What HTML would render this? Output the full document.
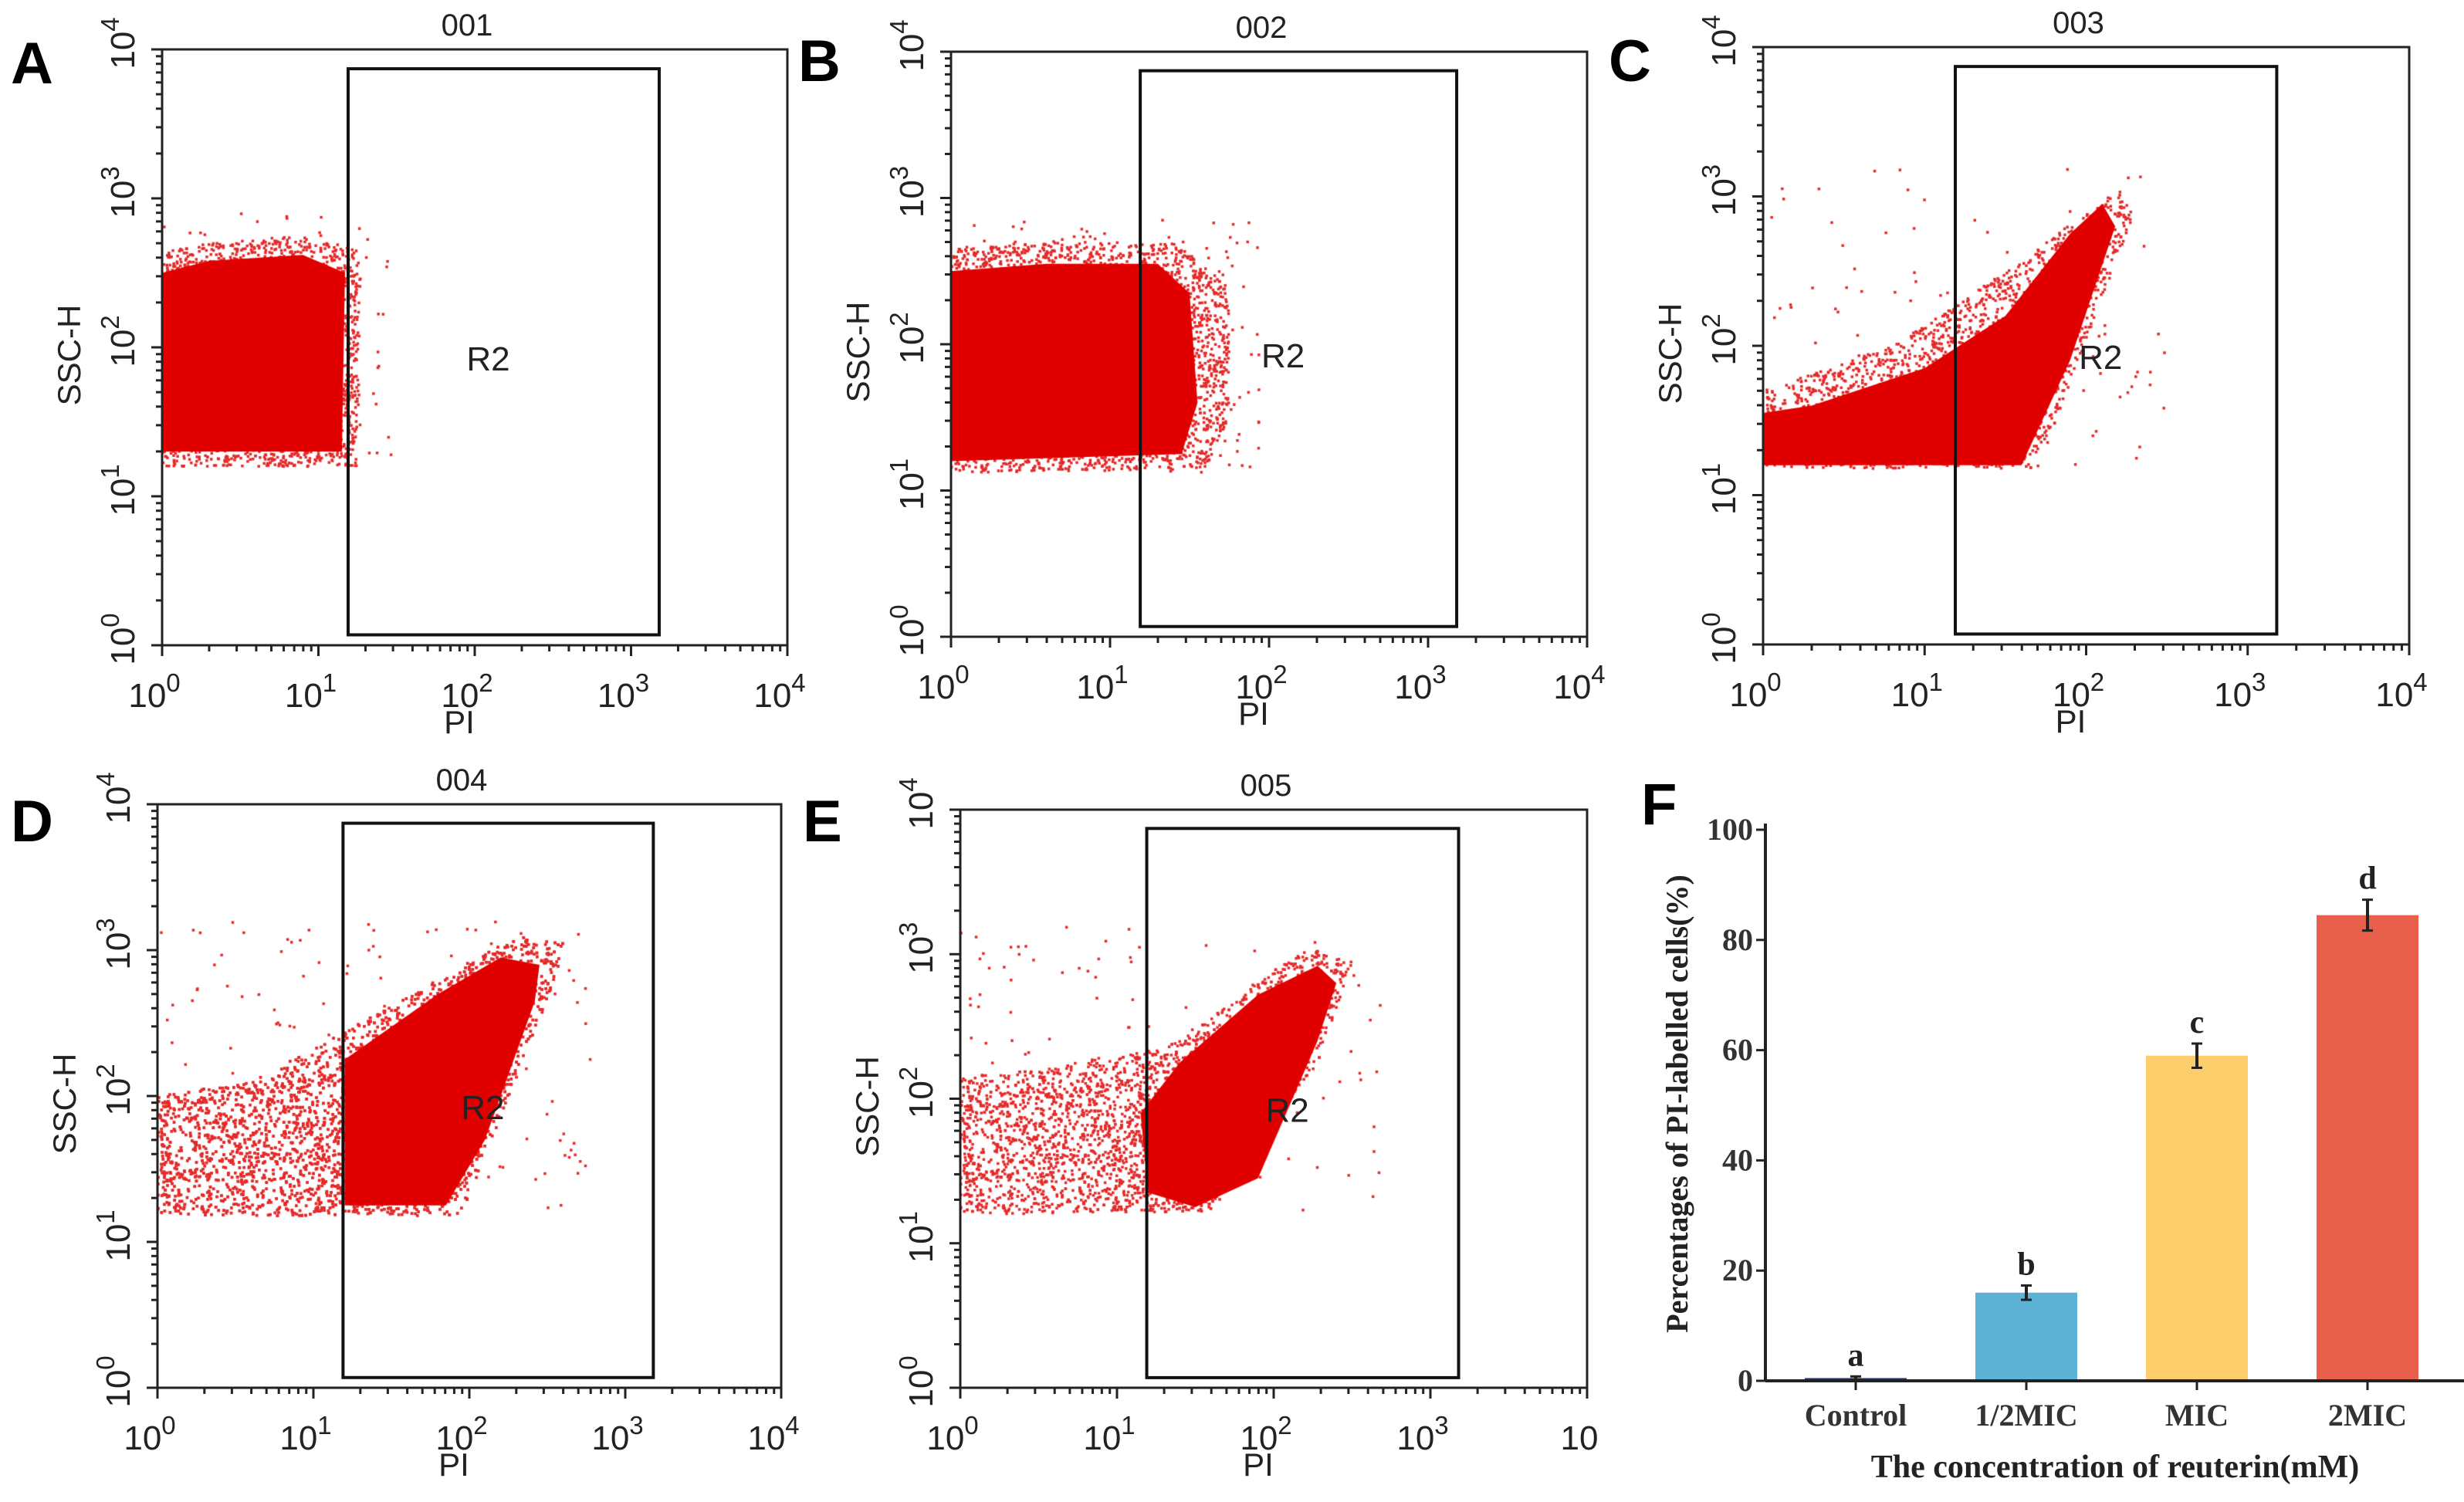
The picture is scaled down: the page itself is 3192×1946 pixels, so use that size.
<!DOCTYPE html>
<html><head><meta charset="utf-8">
<style>
html,body{margin:0;padding:0;background:#fff;}
#wrap{position:relative;width:3192px;height:1946px;overflow:hidden;background:#fff;}
canvas,svg{position:absolute;left:0;top:0;}
</style></head>
<body>
<div id="wrap">
<canvas id="dots" width="3192" height="1946"></canvas>
<svg id="svg" width="3192" height="1946" xmlns="http://www.w3.org/2000/svg"></svg>
</div>
<script>
// ---------- flow cytometry panel data (log10 decade units) ----------
const panelIds = ['A','B','C','D','E'];
const panelTitles = ['001','002','003','004','005'];
const xTickLabelsAll = ['0','1','2','3','4'];
const yTickLabelsAll = ['0','1','2','3','4'];
const gateX = [1.19, 3.18];
const gateY = [0.07, 3.87];
// dense cloud outlines [log10 PI, log10 SSC-H]
const denseA = [[0,1.3],[1.15,1.3],[1.17,2.5],[0.9,2.62],[0.3,2.58],[0,2.5]];
const denseB = [[0,1.2],[1.45,1.25],[1.55,1.6],[1.5,2.35],[1.3,2.55],[0.6,2.55],[0,2.5]];
const denseC = [[0,1.2],[1.6,1.2],[1.9,1.9],[2.18,2.8],[2.1,2.95],[1.9,2.75],[1.5,2.2],[1.0,1.85],[0.3,1.6],[0,1.55]];
const denseD = [[1.2,1.25],[1.85,1.25],[2.1,1.7],[2.42,2.65],[2.45,2.9],[2.2,2.95],[1.8,2.7],[1.4,2.4],[1.2,2.25]];
const denseE = [[1.2,1.35],[1.5,1.25],[1.9,1.45],[2.28,2.4],[2.4,2.8],[2.28,2.92],[1.9,2.72],[1.4,2.25],[1.15,1.9]];
// sparse (speckled) cloud outlines and dot counts
const sparseA = [[0,1.2],[1.25,1.2],[1.27,2.65],[0.9,2.75],[0.3,2.7],[0,2.65]];
const sparseB = [[0,1.12],[1.6,1.15],[1.75,1.5],[1.75,2.4],[1.4,2.7],[0.6,2.7],[0,2.65]];
const sparseC = [[0,1.18],[1.7,1.18],[2.3,2.9],[2.2,3.05],[1.5,2.5],[0.8,2.0],[0,1.7]];
const sparseD = [[0,1.18],[1.95,1.18],[2.55,2.8],[2.6,3.05],[2.3,3.1],[1.3,2.5],[0.6,2.1],[0,2.0]];
const sparseE = [[0,1.2],[1.6,1.22],[2.3,2.3],[2.5,2.95],[2.2,3.05],[1.4,2.4],[0.5,2.2],[0,2.15]];
const sparseCounts = [2500, 3500, 2500, 7000, 3500];
const sparseCountsOuter = [30, 60, 60, 80, 70];

// ---------- bar chart data ----------
const barCategories = ['Control','1/2MIC','MIC','2MIC'];
const barValues = [0.5, 16, 59, 84.5];
const barErrors = [0.3, 1.3, 2.2, 2.8];
const barLetters = ['a','b','c','d'];
const barColors = ['#2a3a6a','#5db3d6','#fccd6b','#e8604c'];
const yTicks = [0,20,40,60,80,100];

const NS='http://www.w3.org/2000/svg';
const svg=document.getElementById('svg');
function mk(tag,attrs,parent){const e=document.createElementNS(NS,tag);for(const k in attrs)e.setAttribute(k,attrs[k]);(parent||svg).appendChild(e);return e;}

const boxes=[
 {x0:210,x1:1020,yb:836,yt:64},
 {x0:1232,x1:2056,yb:825,yt:67},
 {x0:2284,x1:3121,yb:835,yt:61},
 {x0:204,x1:1012,yb:1798,yt:1042},
 {x0:1244,x1:2056,yb:1798,yt:1049}
];
const denseList=[denseA,denseB,denseC,denseD,denseE];
const sparseList=[sparseA,sparseB,sparseC,sparseD,sparseE];
const letterPos=[[14,108],[1034,105],[2084,105],[14,1090],[1040,1090]];

let seed=12345;
function rnd(){seed=(seed*1103515245+12345)%2147483648;return seed/2147483648;}
function inside(pt,poly){let c=false;for(let i=0,j=poly.length-1;i<poly.length;j=i++){const [xi,yi]=poly[i],[xj,yj]=poly[j];if(((yi>pt[1])!=(yj>pt[1]))&&(pt[0]<(xj-xi)*(pt[1]-yi)/(yj-yi)+xi))c=!c;}return c;}
function bbox(poly){let a=[1e9,1e9,-1e9,-1e9];poly.forEach(p=>{a[0]=Math.min(a[0],p[0]);a[1]=Math.min(a[1],p[1]);a[2]=Math.max(a[2],p[0]);a[3]=Math.max(a[3],p[1]);});return a;}

const ctx=document.getElementById('dots').getContext('2d');

boxes.forEach((b,i)=>{
 const sx=v=>b.x0+v*(b.x1-b.x0)/4;
 const sy=v=>b.yb-v*(b.yb-b.yt)/4;
 const g=mk('g',{});
 
 
 ctx.save();ctx.beginPath();ctx.rect(b.x0,b.yt,b.x1-b.x0,b.yb-b.yt);ctx.clip();
 const sp=sparseList[i], bb=bbox(sp);
 ctx.fillStyle='#e42a2a';
 let n=0,guard=0;
 while(n<sparseCounts[i]&&guard<400000){guard++;const p=[bb[0]+rnd()*(bb[2]-bb[0]),bb[1]+rnd()*(bb[3]-bb[1])];if(inside(p,sp)){ctx.fillRect(sx(p[0])-1.5,sy(p[1])-1.5,3.5,3.5);n++;}}
 n=0;guard=0;
 const ob=[Math.max(0,bb[0]-0.1),bb[1],bb[2]+0.2,bb[3]+0.15];
 while(n<sparseCountsOuter[i]&&guard<400000){guard++;const p=[ob[0]+rnd()*(ob[2]-ob[0]),ob[1]+rnd()*(ob[3]-ob[1])];if(!inside(p,sp)){ctx.fillRect(sx(p[0])-1.5,sy(p[1])-1.5,3.5,3.5);n++;}}
 const dp=denseList[i];
 ctx.fillStyle='#e00000';ctx.beginPath();
 dp.forEach((p,k)=>{k?ctx.lineTo(sx(p[0]),sy(p[1])):ctx.moveTo(sx(p[0]),sy(p[1]));});
 ctx.closePath();ctx.fill();
 ctx.restore();
 mk('rect',{x:b.x0,y:b.yt,width:b.x1-b.x0,height:b.yb-b.yt,fill:'none',stroke:'#222','stroke-width':3},g);
 const gr=mk('rect',{x:sx(gateX[0]),y:sy(gateY[1]),width:sx(gateX[1])-sx(gateX[0]),height:sy(gateY[0])-sy(gateY[1]),fill:'none',stroke:'#111','stroke-width':4},g);
 
 
 const r2=mk('text',{x:(sx(gateX[0])+sx(gateX[1]))/2-20,y:(b.yb+b.yt)/2+30,'font-family':'Liberation Sans, sans-serif','font-size':44,fill:'#222','text-anchor':'middle'},g);
 r2.textContent='R2';
 
 for(let d=0;d<4;d++){for(let m=1;m<10;m++){const v=d+Math.log10(m);const L=m==1?14:8;
  mk('line',{x1:sx(v),x2:sx(v),y1:b.yb,y2:b.yb+L,stroke:'#222','stroke-width':3},g);
  mk('line',{x1:b.x0,x2:b.x0-L,y1:sy(v),y2:sy(v),stroke:'#222','stroke-width':3},g);}}
 mk('line',{x1:sx(4),x2:sx(4),y1:b.yb,y2:b.yb+14,stroke:'#222','stroke-width':3},g);
 mk('line',{x1:b.x0,x2:b.x0-14,y1:sy(4),y2:sy(4),stroke:'#222','stroke-width':3},g);
 xTickLabelsAll.forEach((s,k)=>{
  const t=mk('text',{x:sx(k)-10,y:b.yb+80,'font-family':'Liberation Sans, sans-serif','font-size':44,fill:'#222','text-anchor':'middle'},g);
  if(i==4&&k==4){t.textContent='10';}else{t.innerHTML='10<tspan dy="-20" font-size="33">'+s+'</tspan>';}
  
  const ty=mk('text',{x:0,y:0,'font-family':'Liberation Sans, sans-serif','font-size':44,fill:'#222','text-anchor':'middle',transform:'translate('+(b.x0-36)+','+(sy(k)-8)+') rotate(-90)'},g);
  ty.innerHTML='10<tspan dy="-20" font-size="33">'+yTickLabelsAll[k]+'</tspan>';
  
 });
 const xl=mk('text',{x:(b.x0+b.x1)/2-20,y:b.yb+114,'font-family':'Liberation Sans, sans-serif','font-size':42,fill:'#222','text-anchor':'middle'},g);
 xl.textContent='PI';
 const yl=mk('text',{x:0,y:0,'font-family':'Liberation Sans, sans-serif','font-size':42,fill:'#222','text-anchor':'middle',transform:'translate('+(b.x0-106)+','+((b.yb+b.yt)/2+10)+') rotate(-90)'},g);
 yl.textContent='SSC-H';
 const tt=mk('text',{x:(b.x0+b.x1)/2-10,y:b.yt-18,'font-family':'Liberation Sans, sans-serif','font-size':40,fill:'#222','text-anchor':'middle'},g);
 tt.textContent=panelTitles[i];
 const pl=mk('text',{x:letterPos[i][0],y:letterPos[i][1],'font-family':'Liberation Sans, sans-serif','font-size':76,'font-weight':'bold',fill:'#000'},g);
 pl.textContent=panelIds[i];
});

// ---------- bar chart F ----------
(function(){
 const g=mk('g',{});
 
 
 const X0=2287, Y0=1789, Y100=1075;
 const y=v=>Y0-(v/100)*(Y0-Y100);
 const cx=k=>2404+k*221;
 const bw=132;
 barValues.forEach((v,k)=>{
  const r=mk('rect',{x:cx(k)-bw/2,y:y(v),width:bw,height:Y0-y(v),fill:barColors[k]},g);
  
  
  const e=barErrors[k];
  mk('line',{x1:cx(k),x2:cx(k),y1:y(v+e),y2:y(v-e),stroke:'#222','stroke-width':4},g);
  mk('line',{x1:cx(k)-7,x2:cx(k)+7,y1:y(v+e),y2:y(v+e),stroke:'#222','stroke-width':3},g);
  mk('line',{x1:cx(k)-7,x2:cx(k)+7,y1:y(v-e),y2:y(v-e),stroke:'#222','stroke-width':3},g);
  const t=mk('text',{x:cx(k),y:y(v+e)-14,'font-family':'Liberation Serif, serif','font-size':42,'font-weight':'bold',fill:'#222','text-anchor':'middle'},g);
  t.textContent=barLetters[k];
  const c=mk('text',{x:cx(k),y:1847,'font-family':'Liberation Serif, serif','font-size':40,'font-weight':'bold',fill:'#333','text-anchor':'middle'},g);
  c.textContent=barCategories[k];
  mk('line',{x1:cx(k),x2:cx(k),y1:Y0,y2:Y0+12,stroke:'#222','stroke-width':3},g);
 });
 mk('line',{x1:X0,x2:3192,y1:Y0,y2:Y0,stroke:'#222','stroke-width':4},g);
 mk('line',{x1:X0,x2:X0,y1:Y100-8,y2:Y0,stroke:'#222','stroke-width':4},g);
 yTicks.forEach(v=>{
  mk('line',{x1:X0,x2:X0-12,y1:y(v),y2:y(v),stroke:'#222','stroke-width':3},g);
  const t=mk('text',{x:X0-16,y:y(v)+13,'font-family':'Liberation Serif, serif','font-size':40,'font-weight':'bold',fill:'#333','text-anchor':'end'},g);
  t.textContent=String(v);
 });
 const xt=mk('text',{x:2740,y:1914,'font-family':'Liberation Serif, serif','font-size':42,'font-weight':'bold',fill:'#222','text-anchor':'middle'},g);
 xt.textContent='The concentration of reuterin(mM)';
 const yt=mk('text',{x:0,y:0,'font-family':'Liberation Serif, serif','font-size':40,'font-weight':'bold',fill:'#222','text-anchor':'middle',transform:'translate(2186,1430) rotate(-90)'},g);
 yt.textContent='Percentages of PI-labelled cells(%)';
 const fl=mk('text',{x:2126,y:1068,'font-family':'Liberation Sans, sans-serif','font-size':76,'font-weight':'bold',fill:'#000'},g);
 fl.textContent='F';
})();
</script>
</body></html>
